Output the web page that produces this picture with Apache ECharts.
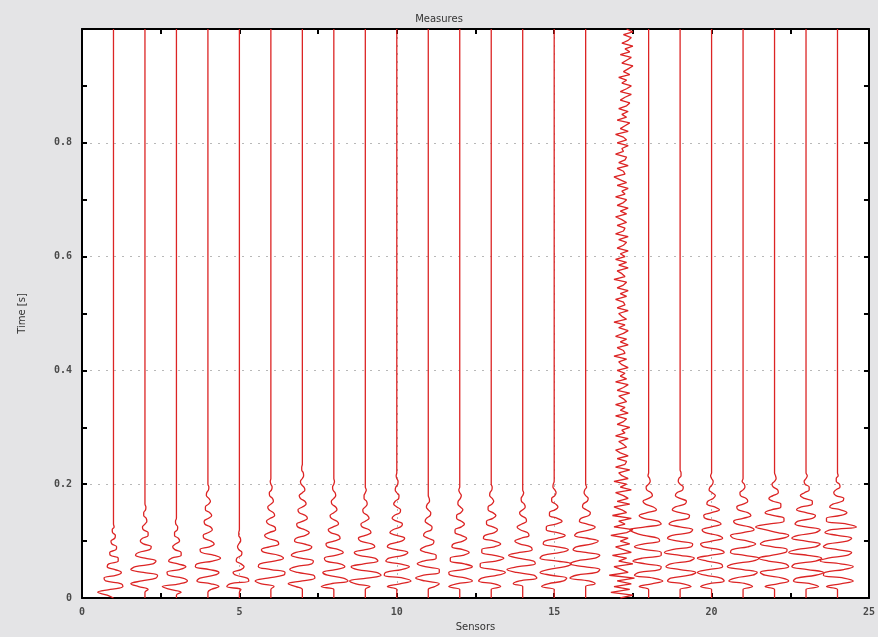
<!DOCTYPE html>
<html><head><meta charset="utf-8">
<script src="https://cdn.jsdelivr.net/npm/echarts@6/dist/echarts.min.js"></script>
<style>html,body{margin:0;padding:0;background:#e4e4e6}#c{width:878px;height:637px}</style>
</head><body><div id="c"></div>
<script>
// Sensors (trace positions) and time sampling of the recorded amplitudes
const sensors = [1,2,3,4,5,6,7,8,9,10,11,12,13,14,15,16,17,18,19,20,21,22,23,24];
const dt = 0.005;     // seconds between samples
const tEnd = 1.0;     // record length [s]
const xTicks = [0,5,10,15,20,25];
const yTicks = [0,0.2,0.4,0.6,0.8];

// Amplitude (in sensor-spacing units) of each trace, sample k at t = k*dt; quiet afterwards
const trace01 = [0,-.2,-.5,-.1,.3,.25,-.25,-.3,.1,.25,.05,-.2,-.15,.15,.15,-.1,-.12,.08,.1,-.05,-.08,.04,.06,-.03,-.04,.02,0];
const trace02 = [0,0,0,.1,-.2,-.45,-.1,.35,.4,-.05,-.45,-.3,.25,.35,0,-.3,-.2,.15,.2,-.05,-.15,-.08,.1,.1,-.05,-.08,0,.06,.04,-.04,-.04,.02,.03,0];
const trace03 = [0,0,.15,-.2,-.45,.1,.35,.2,-.25,-.3,.1,.3,.05,-.25,-.15,.15,.15,-.05,-.12,-.03,.1,.06,-.06,-.06,.03,.04,-.02,-.03,0];
const trace04 = [0,0,0,.1,.35,.1,-.35,-.25,.2,.35,.05,-.4,-.35,.15,.4,.2,-.2,-.25,.05,.2,.1,-.12,-.15,.02,.14,.08,-.1,-.12,.02,.12,.06,-.08,-.08,.02,.08,.03,-.05,-.04,.02,.03,0];
const trace05 = [0,0,0,.05,-.4,-.3,.3,.25,-.1,-.2,.05,.15,.05,-.1,-.08,.06,.08,-.02,-.06,-.02,.04,.03,-.02,-.02,0];
const trace06 = [0,0,0,0,.1,-.3,-.5,-.1,.4,.45,0,-.4,-.35,.1,.4,.25,-.2,-.3,-.05,.25,.2,-.1,-.2,-.05,.15,.12,-.08,-.14,-.02,.12,.08,-.06,-.1,0,.08,.05,-.04,-.05,.02,.04,0,-.02,0];
const trace07 = [0,0,0,0,-.2,-.45,0,.4,.35,-.15,-.4,-.2,.3,.35,-.05,-.35,-.2,.2,.3,.05,-.25,-.2,.1,.22,.08,-.15,-.18,.02,.16,.1,-.1,-.14,0,.12,.08,-.06,-.1,0,.08,.05,-.04,-.06,0,.04,.03,-.02,-.02,0];
const trace08 = [0,0,0,0,-.4,-.1,.45,.3,-.2,-.35,.05,.35,.2,-.25,-.3,.05,.3,.15,-.2,-.25,0,.2,.15,-.1,-.18,-.02,.15,.1,-.08,-.12,0,.1,.06,-.06,-.08,0,.06,.04,-.03,-.04,0,.02,0];
const trace09 = [0,0,0,0,.15,-.3,-.5,.05,.5,.35,-.25,-.45,-.05,.4,.3,-.2,-.35,0,.3,.2,-.15,-.22,0,.18,.12,-.1,-.14,0,.12,.07,-.06,-.08,0,.06,.04,-.04,-.04,0,.03,0];
const trace10 = [0,0,0,0,-.3,.1,.45,.2,-.4,-.35,.15,.4,.1,-.35,-.25,.2,.35,0,-.3,-.2,.15,.25,0,-.22,-.12,.12,.18,0,-.15,-.08,.1,.12,0,-.1,-.05,.06,.07,0,-.05,-.03,.03,.04,0,-.02,0];
const trace11 = [0,0,0,0,.2,.35,-.1,-.4,-.15,.35,.35,-.1,-.35,-.15,.25,.25,-.05,-.25,-.12,.15,.18,0,-.15,-.1,.1,.12,0,-.1,-.06,.06,.08,0,-.06,-.03,.04,.03,0];
const trace12 = [0,0,0,0,-.35,-.1,.4,.2,-.3,-.35,.1,.4,.15,-.3,-.3,.1,.3,.1,-.25,-.2,.1,.22,.05,-.15,-.15,.05,.15,.05,-.1,-.1,.03,.1,.02,-.06,-.05,.02,.05,0,-.03,0];
const trace13 = [0,0,0,0,.3,.1,-.4,-.3,.2,.45,.1,-.35,-.35,.15,.4,.1,-.3,-.3,.1,.3,.1,-.25,-.2,.1,.2,.05,-.15,-.15,.05,.15,.05,-.1,-.1,.02,.08,.03,-.05,-.04,.02,.03,0];
const trace14 = [0,0,0,0,0,-.3,-.1,.45,.35,-.2,-.5,-.15,.4,.35,-.15,-.45,-.1,.3,.25,-.1,-.25,-.05,.2,.15,-.08,-.18,-.03,.12,.1,-.05,-.1,0,.08,.05,-.04,-.05,0,.03,0];
const trace15 = [0,0,0,0,-.4,-.2,.3,.4,-.1,-.45,-.2,.35,.55,.1,-.45,-.35,.2,.45,.1,-.35,-.3,.1,.35,.1,-.25,-.25,.05,.25,.1,-.15,-.15,.03,.12,.05,-.08,-.08,.02,.06,.02,-.04,-.03,0];
const trace16 = [0,0,0,0,0,.3,.1,-.5,-.3,.35,.45,-.05,-.5,-.3,.3,.45,0,-.4,-.3,.2,.4,.05,-.35,-.25,.15,.3,.05,-.2,-.15,.1,.15,.02,-.1,-.08,.05,.08,0,-.05,-.03,.03,0];
const trace17 = [
 .1,.5,-.2,.4,-.1,.45,0,.55,-.25,.35,.15,-.1,.5,.05,.3,-.15,.45,.2,-.05,.4,
 .1,.35,-.2,.3,.5,-.1,.25,.05,.45,-.15,.3,.15,-.1,.4,0,.35,.2,-.05,.45,.1,
 .3,-.1,.35,.15,.05,.4,-.05,.25,.3,0,.35,.1,-.05,.3,.2,.05,.35,-.05,.25,.15,
 .4,0,.2,.3,-.05,.35,.1,.25,-.05,.3,.2,.05,.4,0,.2,.35,-.05,.3,.1,.25,
 0,.35,.15,.05,.3,-.1,.25,.2,0,.35,.1,.3,-.05,.2,.35,.05,.25,-.1,.3,.15,
 .05,.35,0,.25,.2,-.05,.3,.1,.35,0,.2,.3,-.1,.25,.15,0,.35,.05,.3,-.05,
 .25,.1,.35,0,.2,.3,.05,.35,-.05,.2,.25,0,.3,.15,-.05,.3,.1,.35,0,.2,
 .3,-.05,.25,.15,.35,0,.3,.1,-.1,.25,.2,0,.35,.05,.25,.3,-.05,.2,.15,.35,
 0,.3,.2,-.05,.35,.1,.25,.4,0,.3,.15,.35,.05,.3,.4,.1,.25,.45,.1,.3,
 .45,.15,.3,.05,.4,.2,.35,.5,.15,.3,.45,.1,.4,.25,.5,.15,.35,.45,.2,.5,.3];
const trace18 = [0,0,0,0,-.3,.1,.45,.15,-.45,-.3,.35,.4,-.1,-.5,-.2,.4,.4,-.1,-.45,-.15,.35,.3,-.15,-.45,-.6,-.1,.4,.3,-.15,-.3,-.05,.25,.15,-.1,-.18,0,.12,.08,-.06,-.08,0,.05,.03,-.02,0];
const trace19 = [0,0,0,0,.35,.1,-.4,-.3,.3,.5,0,-.45,-.3,.3,.45,0,-.5,-.25,.35,.4,-.05,-.4,-.25,.3,.4,0,-.35,-.2,.25,.3,0,-.25,-.15,.15,.2,0,-.15,-.1,.08,.1,0,-.06,-.04,.03,.03,0];
const trace20 = [0,0,0,0,-.35,-.1,.4,.3,-.2,-.45,-.1,.35,.3,-.15,-.45,-.05,.4,.25,-.25,-.35,0,.35,.2,-.2,-.3,0,.3,.15,-.2,-.25,0,.25,.1,-.15,-.12,.05,.12,.02,-.08,-.05,.03,.05,0,-.03,0];
const trace21 = [0,0,0,0,.3,.1,-.45,-.25,.3,.45,0,-.5,-.3,.3,.5,.05,-.4,-.35,.15,.4,.15,-.3,-.4,0,.35,.2,-.2,-.3,0,.25,.15,-.15,-.2,0,.15,.1,-.08,-.1,0,.06,.04,-.03,0];
const trace22 = [0,0,0,0,-.3,.1,.45,.25,-.3,-.45,0,.45,.35,-.2,-.5,-.1,.35,.4,-.05,-.45,-.3,.25,.45,.1,-.3,-.6,-.2,.3,.3,-.05,-.3,-.1,.2,.2,-.05,-.18,-.05,.12,.1,-.04,-.08,0,.05,.03,0];
const trace23 = [0,0,0,0,.4,.15,-.4,-.3,.3,.55,.05,-.45,-.35,.3,.5,.05,-.55,-.3,.3,.45,0,-.45,-.25,.3,.45,0,-.35,-.25,.2,.3,0,-.3,-.15,.2,.2,-.05,-.18,-.05,.1,.1,-.03,-.06,0,.04,0];
const trace24 = [0,0,0,0,-.35,.1,.5,.2,-.45,-.4,.2,.5,.1,-.55,-.3,.3,.45,0,-.45,-.3,.3,.45,0,-.4,-.2,.6,.3,-.35,-.35,.1,.3,.1,-.25,-.15,.15,.2,-.05,-.12,-.05,.08,.06,-.04,-.04,.02,0];

const traces = [trace01,trace02,trace03,trace04,trace05,trace06,trace07,trace08,trace09,trace10,trace11,trace12,
                trace13,trace14,trace15,trace16,trace17,trace18,trace19,trace20,trace21,trace22,trace23,trace24];

const RED = '#dc2424';
const series = sensors.map((s, i) => {
  const amps = traces[i];
  const data = amps.map((a, k) => [s + a, Math.min(tEnd, +(k * dt).toFixed(4))]);
  const last = data[data.length - 1];
  if (last[1] < tEnd) data.push([s + amps[amps.length - 1], tEnd]);
  return {
    type: 'line', data, showSymbol: false, symbol: 'none',
    smooth: s === 17 ? false : 0.4, clip: true,
    lineStyle: { color: RED, width: 1.3 }, silent: true, z: 3
  };
});

const labelStyle = { color: '#4a4a4a', fontFamily: 'DejaVu Sans Mono', fontWeight: 'bold', fontSize: 10 };
const tickCommon = { show: true, inside: true, length: 5, lineStyle: { color: '#000', width: 2 } };
const minorCommon = { show: true, splitNumber: 2, length: 5, lineStyle: { color: '#000', width: 2 } };
const lineCommon = { show: true, onZero: false, lineStyle: { color: '#000', width: 2 } };
const splitCommon = { show: true, lineStyle: { color: '#b8b8b8', type: [2, 6], width: 1 } };

const chart = echarts.init(document.getElementById('c'), null, { renderer: 'canvas' });
chart.setOption({
  animation: false,
  backgroundColor: '#e4e4e6',
  title: { text: 'Measures', left: 'center', top: 9,
    textStyle: { fontSize: 10, fontWeight: 'normal', color: '#333', fontFamily: 'DejaVu Sans' } },
  grid: { left: 82, right: 8, top: 29, bottom: 39, show: true, backgroundColor: '#ffffff', borderWidth: 0 },
  xAxis: [
    { type: 'value', position: 'bottom', min: xTicks[0], max: xTicks[xTicks.length - 1], interval: 5,
      axisLine: lineCommon, axisTick: tickCommon, minorTick: minorCommon,
      axisLabel: Object.assign({ margin: 9 }, labelStyle),
      splitLine: splitCommon,
      name: 'Sensors', nameLocation: 'middle', nameGap: 24,
      nameTextStyle: { fontSize: 10, color: '#333', fontFamily: 'DejaVu Sans' } },
    { type: 'value', position: 'top', min: 0, max: 25, interval: 5,
      axisLine: lineCommon, axisTick: tickCommon, minorTick: minorCommon,
      axisLabel: { show: false }, splitLine: { show: false } }
  ],
  yAxis: [
    { type: 'value', position: 'left', min: 0, max: tEnd, interval: 0.2,
      axisLine: lineCommon, axisTick: tickCommon, minorTick: minorCommon,
      axisLabel: Object.assign({ margin: 10, showMaxLabel: false,
        formatter: v => (yTicks.indexOf(+v.toFixed(1)) >= 0 ? String(+v.toFixed(1)) : '') }, labelStyle),
      splitLine: splitCommon,
      name: 'Time [s]', nameLocation: 'middle', nameGap: 55, nameRotate: 90,
      nameTextStyle: { fontSize: 10, color: '#333', fontFamily: 'DejaVu Sans' } },
    { type: 'value', position: 'right', min: 0, max: tEnd, interval: 0.2,
      axisLine: lineCommon, axisTick: tickCommon, minorTick: minorCommon,
      axisLabel: { show: false }, splitLine: { show: false } }
  ],
  series
});
</script>
</body></html>
